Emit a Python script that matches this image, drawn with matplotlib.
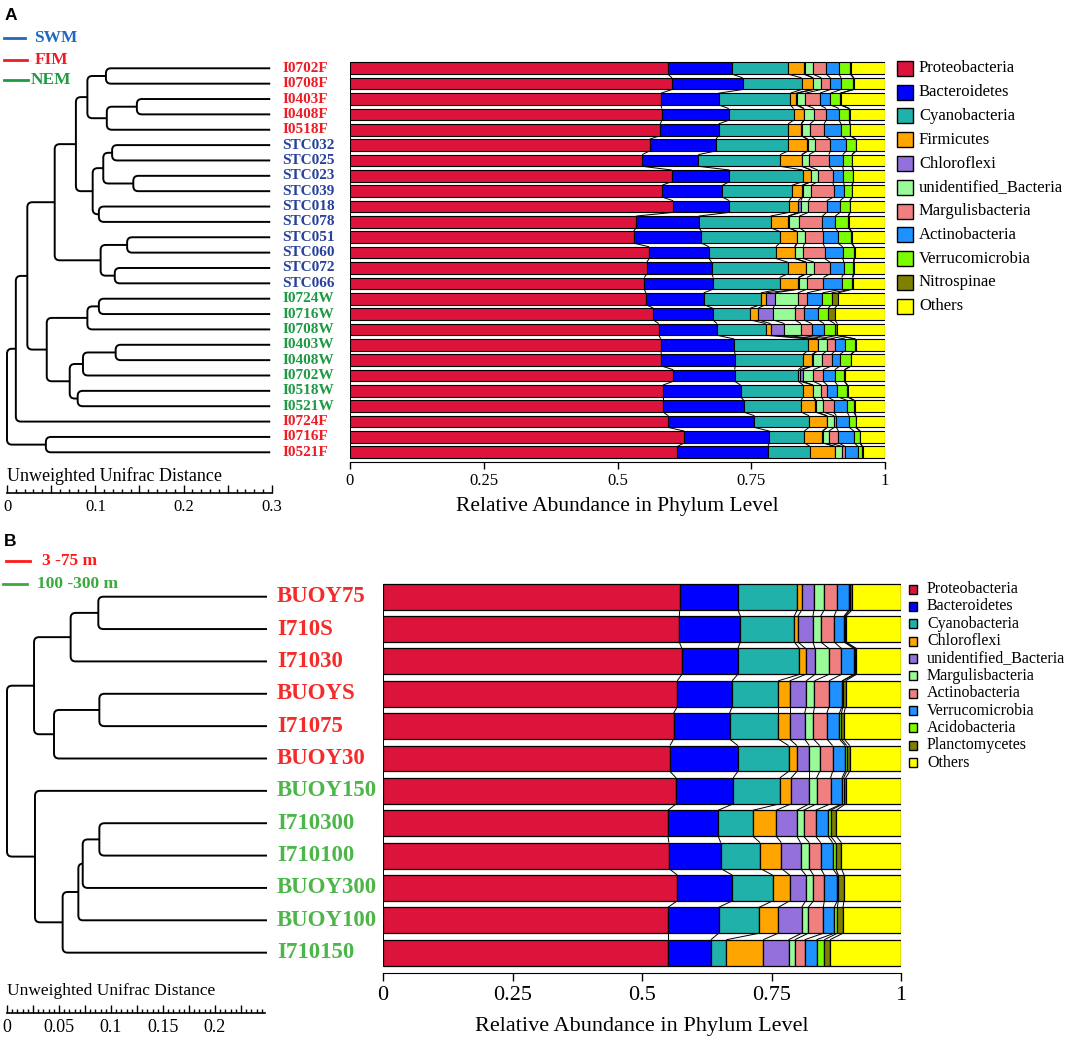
import numpy as np
import matplotlib
matplotlib.use('Agg')
import matplotlib.pyplot as plt
from matplotlib.path import Path
from matplotlib.patches import PathPatch, Rectangle
from matplotlib.collections import LineCollection

plt.rcParams['font.family'] = ['Liberation Serif', 'DejaVu Sans']

W, H = 1084, 1042

# ---------------- panel A data ----------------
samples_a = ['I0702F', 'I0708F', 'I0403F', 'I0408F', 'I0518F', 'STC032', 'STC025', 'STC023', 'STC039',
             'STC018', 'STC078', 'STC051', 'STC060', 'STC072', 'STC066', 'I0724W', 'I0716W', 'I0708W',
             'I0403W', 'I0408W', 'I0702W', 'I0518W', 'I0521W', 'I0724F', 'I0716F', 'I0521F']
groups_a = ['FIM', 'FIM', 'FIM', 'FIM', 'FIM', 'SWM', 'SWM', 'SWM', 'SWM', 'SWM', 'SWM', 'SWM', 'SWM',
            'SWM', 'SWM', 'NEM', 'NEM', 'NEM', 'NEM', 'NEM', 'NEM', 'NEM', 'NEM', 'FIM', 'FIM', 'FIM']
phyla_a = ['Proteobacteria', 'Bacteroidetes', 'Cyanobacteria', 'Firmicutes', 'Chloroflexi',
           'unidentified_Bacteria', 'Margulisbacteria', 'Actinobacteria', 'Verrucomicrobia',
           'Nitrospinae', 'Others']

proteo_a = [0.594, 0.602, 0.581, 0.583, 0.580, 0.560, 0.546, 0.601, 0.583, 0.604, 0.535, 0.530, 0.559,
            0.555, 0.550, 0.553, 0.567, 0.577, 0.581, 0.582, 0.604, 0.585, 0.585, 0.595, 0.625, 0.612]
bacter_a = [0.120, 0.132, 0.108, 0.125, 0.109, 0.124, 0.105, 0.108, 0.113, 0.105, 0.117, 0.127, 0.112,
            0.121, 0.129, 0.108, 0.111, 0.109, 0.137, 0.138, 0.115, 0.145, 0.151, 0.161, 0.159, 0.169]
cyano_a = [0.105, 0.110, 0.134, 0.121, 0.130, 0.135, 0.153, 0.137, 0.130, 0.112, 0.134, 0.146, 0.125,
           0.142, 0.124, 0.107, 0.070, 0.091, 0.138, 0.127, 0.119, 0.117, 0.107, 0.102, 0.065, 0.079]
firmi_a = [0.029, 0.021, 0.010, 0.019, 0.024, 0.036, 0.040, 0.015, 0.019, 0.017, 0.033, 0.032, 0.035,
           0.034, 0.035, 0.009, 0.015, 0.009, 0.018, 0.017, 0.003, 0.018, 0.027, 0.033, 0.034, 0.046]
chloro_a = [0.002, 0.001, 0.003, 0.001, 0.001, 0.001, 0.001, 0.001, 0.001, 0.005, 0.001, 0.001, 0.001,
            0.001, 0.001, 0.017, 0.028, 0.026, 0.001, 0.001, 0.005, 0.001, 0.001, 0.001, 0.001, 0.001]
unid_a = [0.015, 0.015, 0.015, 0.019, 0.016, 0.014, 0.013, 0.012, 0.016, 0.014, 0.020, 0.014, 0.015,
          0.014, 0.015, 0.043, 0.040, 0.031, 0.017, 0.018, 0.020, 0.015, 0.014, 0.013, 0.011, 0.013]
margu_a = [0.025, 0.017, 0.027, 0.022, 0.026, 0.028, 0.037, 0.028, 0.042, 0.034, 0.043, 0.034, 0.040,
           0.030, 0.031, 0.017, 0.017, 0.020, 0.015, 0.017, 0.018, 0.011, 0.019, 0.004, 0.018, 0.005]
actino_a = [0.024, 0.020, 0.020, 0.024, 0.032, 0.030, 0.026, 0.020, 0.020, 0.025, 0.024, 0.028, 0.034,
            0.026, 0.034, 0.029, 0.027, 0.023, 0.018, 0.016, 0.022, 0.019, 0.025, 0.024, 0.029, 0.025]
verru_a = [0.021, 0.023, 0.018, 0.019, 0.016, 0.017, 0.017, 0.018, 0.014, 0.018, 0.024, 0.025, 0.021,
           0.018, 0.020, 0.017, 0.019, 0.020, 0.019, 0.020, 0.018, 0.018, 0.013, 0.012, 0.011, 0.007]
nitro_a = [0.001, 0.001, 0.001, 0.001, 0.001, 0.001, 0.001, 0.001, 0.001, 0.001, 0.001, 0.001, 0.001,
           0.001, 0.001, 0.012, 0.012, 0.005, 0.001, 0.001, 0.001, 0.001, 0.001, 0.001, 0.001, 0.001]
others_a = [0.064, 0.058, 0.083, 0.066, 0.065, 0.054, 0.061, 0.059, 0.061, 0.065, 0.068, 0.062, 0.057,
            0.058, 0.060, 0.088, 0.094, 0.089, 0.055, 0.063, 0.075, 0.070, 0.057, 0.054, 0.046, 0.042]

# dendrogram A: (child, child, distance position); leaves 0..25, new nodes from 26
tree_a = [(0, 1, 0.112), (2, 3, 0.147), (27, 4, 0.113), (26, 28, 0.091), (5, 6, 0.119), (7, 8, 0.143),
          (30, 31, 0.109), (9, 10, 0.104), (32, 33, 0.097), (29, 34, 0.078), (11, 12, 0.136),
          (13, 14, 0.122), (36, 37, 0.106), (35, 38, 0.054), (15, 16, 0.104), (40, 17, 0.091),
          (18, 19, 0.123), (42, 20, 0.086), (21, 22, 0.080), (43, 44, 0.071), (41, 45, 0.045),
          (39, 46, 0.023), (47, 23, 0.010), (24, 25, 0.044), (48, 49, 0.0)]
leaf_dist_a = 0.298

# ---------------- panel B data ----------------
samples_b = ['BUOY75', 'I710S', 'I71030', 'BUOYS', 'I71075', 'BUOY30', 'BUOY150', 'I710300', 'I710100',
             'BUOY300', 'BUOY100', 'I710150']
groups_b = ['shallow', 'shallow', 'shallow', 'shallow', 'shallow', 'shallow',
            'deep', 'deep', 'deep', 'deep', 'deep', 'deep']
phyla_b = ['Proteobacteria', 'Bacteroidetes', 'Cyanobacteria', 'Chloroflexi', 'unidentified_Bacteria',
           'Margulisbacteria', 'Actinobacteria', 'Verrucomicrobia', 'Acidobacteria', 'Planctomycetes',
           'Others']

proteo_b = [0.573, 0.572, 0.577, 0.568, 0.561, 0.554, 0.566, 0.550, 0.552, 0.568, 0.550, 0.550]
bacter_b = [0.112, 0.118, 0.108, 0.106, 0.108, 0.131, 0.110, 0.097, 0.100, 0.106, 0.098, 0.083]
cyano_b = [0.115, 0.104, 0.119, 0.089, 0.094, 0.098, 0.090, 0.067, 0.076, 0.078, 0.078, 0.030]
chloro_b = [0.009, 0.007, 0.012, 0.022, 0.022, 0.016, 0.022, 0.045, 0.041, 0.033, 0.037, 0.071]
unid_b = [0.023, 0.029, 0.018, 0.032, 0.029, 0.024, 0.035, 0.040, 0.037, 0.031, 0.045, 0.049]
margu_b = [0.020, 0.015, 0.027, 0.016, 0.017, 0.020, 0.014, 0.013, 0.017, 0.015, 0.013, 0.012]
actino_b = [0.024, 0.026, 0.024, 0.028, 0.026, 0.025, 0.027, 0.023, 0.022, 0.021, 0.029, 0.019]
verru_b = [0.024, 0.019, 0.024, 0.025, 0.024, 0.024, 0.022, 0.024, 0.023, 0.025, 0.021, 0.023]
acido_b = [0.002, 0.002, 0.002, 0.002, 0.004, 0.003, 0.003, 0.005, 0.006, 0.002, 0.006, 0.015]
plancto_b = [0.004, 0.002, 0.003, 0.005, 0.005, 0.006, 0.004, 0.011, 0.011, 0.011, 0.011, 0.011]
others_b = [0.094, 0.106, 0.086, 0.107, 0.110, 0.099, 0.107, 0.125, 0.115, 0.110, 0.112, 0.137]

tree_b = [(0, 1, 0.0878), (12, 2, 0.0612), (3, 4, 0.0888), (14, 5, 0.0452), (13, 15, 0.0260),
          (7, 8, 0.0888), (17, 9, 0.0728), (18, 10, 0.0686), (19, 11, 0.0535), (6, 20, 0.0269),
          (16, 21, 0.0)]
leaf_dist_b = 0.25

phylum_colors = ['#DC143C', '#0000FF', '#20B2AA', '#FFA500', '#9370DB', '#98FB98', '#F08080',
                 '#1E90FF', '#7CFC00', '#808000', '#FFFF00']

label_colors_a = {'FIM': '#EE1C25', 'SWM': '#27419C', 'NEM': '#1E9A45'}
legend_colors_a = {'SWM': '#1F68BE', 'FIM': '#EE1C25', 'NEM': '#1E9A45'}
label_colors_b = {'shallow': '#F52A2A', 'deep': '#4DB648'}

series_a = [proteo_a, bacter_a, cyano_a, firmi_a, chloro_a, unid_a, margu_a, actino_a, verru_a,
            nitro_a, others_a]
series_b = [proteo_b, bacter_b, cyano_b, chloro_b, unid_b, margu_b, actino_b, verru_b, acido_b,
            plancto_b, others_b]

fig = plt.figure(figsize=(W / 100, H / 100), dpi=100)


def px_axes(x0, y0, x1, y1):
    return fig.add_axes([x0 / W, 1 - y1 / H, (x1 - x0) / W, (y1 - y0) / H])


def stacked(ax, series, height, lw):
    vals = np.array(series, dtype=float)
    n = vals.shape[1]
    rows = np.arange(n)
    left = np.zeros(n)
    for k in range(vals.shape[0]):
        ax.barh(rows, vals[k], left=left, height=height, color=phylum_colors[k],
                edgecolor='black', linewidth=lw, zorder=3)
        left = left + vals[k]
    cum = np.vstack([np.zeros(n), np.cumsum(vals, axis=0)])
    segs = []
    for i in range(n - 1):
        for k in range(cum.shape[0]):
            segs.append([(cum[k, i], i + height / 2), (cum[k, i + 1], i + 1 - height / 2)])
    ax.add_collection(LineCollection(segs, colors='black', linewidths=0.7, zorder=2))
    ax.set_xlim(0, 1)
    for s in ['top', 'left', 'right']:
        ax.spines[s].set_visible(False)
    ax.set_yticks([])
    ax.set_xticks([0, 0.25, 0.5, 0.75, 1])
    ax.set_xticklabels(['0', '0.25', '0.5', '0.75', '1'])


def draw_tree(ax, tree, n_leaves, leaf_x, rx, ry):
    xs = {i: leaf_x for i in range(n_leaves)}
    ys = {i: float(i) for i in range(n_leaves)}
    for k, (a, b, d) in enumerate(tree):
        if ys[a] > ys[b]:
            a, b = b, a
        ya, yb = ys[a], ys[b]
        r = min(rx, xs[a] - d, xs[b] - d)
        q = min(ry, (yb - ya) / 2)
        verts = [(xs[a], ya), (d + r, ya), (d, ya), (d, ya + q), (d, yb - q), (d, yb),
                 (d + r, yb), (xs[b], yb)]
        codes = [Path.MOVETO, Path.LINETO, Path.CURVE3, Path.CURVE3, Path.LINETO, Path.CURVE3,
                 Path.CURVE3, Path.LINETO]
        ax.add_patch(PathPatch(Path(verts, codes), facecolor='none', edgecolor='black',
                               linewidth=1.4, capstyle='butt'))
        xs[n_leaves + k] = d
        ys[n_leaves + k] = (ya + yb) / 2


def scale_bar(ax, xmax, major, minor, labels_at, fs):
    for s in ['top', 'left', 'right']:
        ax.spines[s].set_visible(False)
    ax.patch.set_alpha(0)
    ax.set_yticks([])
    ax.set_xlim(0, xmax)
    ax.set_xticks(np.arange(0, xmax + 1e-9, major))
    ax.set_xticks(np.arange(0, xmax + 1e-9, minor), minor=True)
    ax.set_xticklabels([('%g' % t if any(abs(t - v) < 1e-9 for v in labels_at) else '')
                        for t in np.arange(0, xmax + 1e-9, major)], fontsize=fs)
    ax.tick_params(axis='x', which='major', direction='in', length=6, width=1, pad=4)
    ax.tick_params(axis='x', which='minor', direction='in', length=3, width=1)
    ax.spines['bottom'].set_linewidth(1.2)


# ---------------- panel A ----------------
pitch_a, y0_a, top_a, bot_a = 15.36, 68.3, 60, 462
ylim_a = ((bot_a - y0_a) / pitch_a, (top_a - y0_a) / pitch_a)

axA = px_axes(350, top_a, 885, bot_a)
stacked(axA, series_a, 0.76, 0.8)
axA.set_ylim(*ylim_a)
axA.tick_params(axis='x', direction='out', length=5, width=1, labelsize=12, pad=3)

scale_a = 883.3
dA = px_axes(0, top_a, 282, bot_a)
dA.axis('off')
dA.set_xlim(-7 / scale_a, 275 / scale_a)
dA.set_ylim(*ylim_a)
draw_tree(dA, tree_a, len(samples_a), leaf_dist_a, 5 / scale_a, 5 / pitch_a)
for i, name in enumerate(samples_a):
    dA.text(leaf_dist_a + 12 / scale_a, i, name, va='center', ha='left', fontsize=11,
            fontweight='bold', color=label_colors_a[groups_a[i]], clip_on=False)

sA = px_axes(7, 470, 7 + 0.3 * scale_a, 493)
scale_bar(sA, 0.3, 0.05, 0.01, [0, 0.1, 0.2, 0.3], 12)

# ---------------- panel B ----------------
pitch_b, y0_b, top_b, bot_b = 32.36, 596.7, 578, 973
ylim_b = ((bot_b - y0_b) / pitch_b, (top_b - y0_b) / pitch_b)

axB = px_axes(383, top_b, 901, bot_b)
stacked(axB, series_b, 0.8, 0.9)
axB.set_ylim(*ylim_b)
axB.tick_params(axis='x', direction='out', length=6, width=1, labelsize=16, pad=3)

scale_b = 1040.0
dB = px_axes(0, top_b, 277, bot_b)
dB.axis('off')
dB.set_xlim(-7 / scale_b, 270 / scale_b)
dB.set_ylim(*ylim_b)
draw_tree(dB, tree_b, len(samples_b), leaf_dist_b, 5 / scale_b, 5 / pitch_b)
for i, name in enumerate(samples_b):
    dB.text(leaf_dist_b + 10 / scale_b, i, name, va='center', ha='left', fontsize=16.5,
            fontweight='bold', color=label_colors_b[groups_b[i]], clip_on=False)

sB = px_axes(7, 995, 7 + 0.2485 * scale_b, 1013)
scale_bar(sB, 0.2485, 0.025, 0.005, [0, 0.05, 0.1, 0.15, 0.2], 13)

# ---------------- overlay: titles, legends, labels ----------------
ov = fig.add_axes([0, 0, 1, 1])
ov.set_xlim(0, W)
ov.set_ylim(H, 0)
ov.axis('off')
ov.patch.set_alpha(0)

ov.text(5, 16, 'A', fontsize=12.5, fontweight='bold', family='Liberation Sans', va='center')
ov.text(4, 542, 'B', fontsize=12.5, fontweight='bold', family='Liberation Sans', va='center')

for (g, y, x1, tx) in [('SWM', 38, 25, 34), ('FIM', 60, 27, 35), ('NEM', 80, 28, 31)]:
    ov.plot([4, x1], [y, y], color=legend_colors_a[g], lw=2)
    ov.text(tx, y, g, color=legend_colors_a[g], fontsize=12.5, fontweight='bold', va='center')

ov.plot([6, 30], [561, 561], color='#FF1A1A', lw=2)
ov.text(42, 561, '3 -75 m', color='#FF1A1A', fontsize=12.5, fontweight='bold', va='center')
ov.plot([3, 27], [584, 584], color='#3AAA3A', lw=2)
ov.text(37, 584, '100 -300 m', color='#3AAA3A', fontsize=12.5, fontweight='bold', va='center')

for k, name in enumerate(phyla_a):
    y = 68.3 + k * 23.8
    ov.add_patch(Rectangle((897, y - 7.5), 16, 15, facecolor=phylum_colors[k], edgecolor='black', lw=1))
    ov.text(919, y, name, fontsize=12, va='center')

for k, name in enumerate(phyla_b):
    y = 589 + k * 17.37
    ov.add_patch(Rectangle((909, y - 4.5), 8, 9, facecolor=phylum_colors[k], edgecolor='black', lw=1))
    ov.text(927, y, name, fontsize=11.5, va='center')

ov.text(617, 507, 'Relative Abundance in Phylum Level', fontsize=15.5, ha='center', va='center')
ov.text(642, 1027, 'Relative Abundance in Phylum Level', fontsize=16, ha='center', va='center')
ov.text(7, 476, 'Unweighted Unifrac Distance', fontsize=13, va='center')
ov.text(7, 991, 'Unweighted Unifrac Distance', fontsize=12.5, va='center')

fig.savefig('out.png', dpi=100)
